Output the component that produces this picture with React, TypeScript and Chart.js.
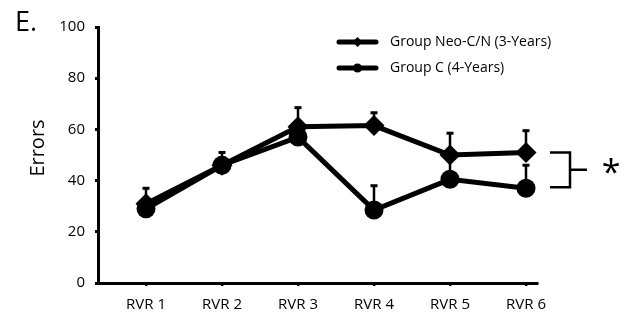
import React, { useEffect, useRef } from "react";
import { Chart, registerables } from "chart.js";

Chart.register(...registerables);

const categories = ["RVR 1", "RVR 2", "RVR 3", "RVR 4", "RVR 5", "RVR 6"];
const neoLabel = "Group Neo-C/N (3-Years)";
const cLabel = "Group C (4-Years)";
const neoValues = [31, 46, 61, 61.5, 50, 51];
const neoErrors = [6, 5, 7.5, 5, 8.5, 8.5];
const cValues = [29, 46, 57, 28.5, 40.5, 37];
const cErrors = [4, 3, 5, 9.5, 8.5, 9];
const yTicks = [0, 20, 40, 60, 80, 100];

const FONT = "'Open Sans', sans-serif";

const errorBarPlugin = {
  id: "errorBars",
  beforeDatasetsDraw(chart: any) {
    const ctx = chart.ctx;
    const xs = chart.scales.x;
    const ys = chart.scales.y;
    const sets = [
      { v: neoValues, e: neoErrors },
      { v: cValues, e: cErrors },
    ];
    ctx.save();
    ctx.strokeStyle = "#000";
    sets.forEach((s) => {
      s.v.forEach((val, i) => {
        const x = xs.getPixelForValue(i + 1);
        const y0 = ys.getPixelForValue(val);
        const y1 = ys.getPixelForValue(val + s.e[i]);
        ctx.lineWidth = 2.5;
        ctx.beginPath();
        ctx.moveTo(x, y0);
        ctx.lineTo(x, y1);
        ctx.stroke();
        ctx.lineWidth = 3;
        ctx.beginPath();
        ctx.moveTo(x - 3.5, y1);
        ctx.lineTo(x + 3.5, y1);
        ctx.stroke();
      });
    });
    ctx.restore();
  },
};

const annotationPlugin = {
  id: "annotations",
  afterDraw(chart: any) {
    const ctx = chart.ctx;
    const ys = chart.scales.y;
    ctx.save();
    ctx.fillStyle = "#000";
    ctx.strokeStyle = "#000";
    // Panel letter
    ctx.font = `27px ${FONT}`;
    ctx.textAlign = "left";
    ctx.textBaseline = "alphabetic";
    ctx.fillText("E.", 15, 31);
    // Y title
    ctx.save();
    ctx.translate(38, 148);
    ctx.rotate(-Math.PI / 2);
    ctx.font = `20px ${FONT}`;
    ctx.textAlign = "center";
    ctx.textBaseline = "middle";
    ctx.fillText("Errors", 0, 0);
    ctx.restore();
    // Legend
    const legendItems = [
      { label: neoLabel, style: "diamond", y: 42 },
      { label: cLabel, style: "circle", y: 68 },
    ];
    legendItems.forEach((it) => {
      ctx.lineWidth = 5;
      ctx.lineCap = "round";
      ctx.beginPath();
      ctx.moveTo(339, it.y);
      ctx.lineTo(376, it.y);
      ctx.stroke();
      ctx.beginPath();
      if (it.style === "diamond") {
        ctx.moveTo(357.5 - 5, it.y);
        ctx.lineTo(357.5, it.y - 5);
        ctx.lineTo(357.5 + 5, it.y);
        ctx.lineTo(357.5, it.y + 5);
        ctx.closePath();
      } else {
        ctx.arc(357.5, it.y, 4.5, 0, Math.PI * 2);
      }
      ctx.fill();
      ctx.font = `14px ${FONT}`;
      ctx.textAlign = "left";
      ctx.textBaseline = "middle";
      ctx.fillText(it.label, 390, it.y);
    });
    // Significance bracket
    const yTop = ys.getPixelForValue(neoValues[5]);
    const yBot = ys.getPixelForValue(cValues[5]) - 1;
    const yMid = (yTop + yBot) / 2;
    ctx.lineWidth = 2.5;
    ctx.lineCap = "butt";
    ctx.beginPath();
    ctx.moveTo(550, yTop);
    ctx.lineTo(570, yTop);
    ctx.lineTo(570, yBot);
    ctx.lineTo(550, yBot);
    ctx.moveTo(570, yMid);
    ctx.lineTo(587, yMid);
    ctx.stroke();
    ctx.font = `34px ${FONT}`;
    ctx.textAlign = "center";
    ctx.textBaseline = "middle";
    ctx.fillText("*", 611, yMid + 4);
    ctx.restore();
  },
};

export default function App() {
  const ref = useRef<HTMLCanvasElement>(null);
  useEffect(() => {
    if (!ref.current) return;
    const chart = new Chart(ref.current, {
      type: "line",
      data: {
        datasets: [
          {
            label: cLabel,
            data: cValues.map((v, i) => ({ x: i + 1, y: v })),
            borderColor: "#000",
            backgroundColor: "#000",
            borderWidth: 5,
            pointStyle: "circle",
            pointRadius: 9.5,
            pointBorderWidth: 0,
            tension: 0,
          },
          {
            label: neoLabel,
            data: neoValues.map((v, i) => ({ x: i + 1, y: v })),
            borderColor: "#000",
            backgroundColor: "#000",
            borderWidth: 5,
            pointStyle: "rectRot",
            pointRadius: 10.5,
            pointBorderWidth: 0,
            tension: 0,
          },
        ],
      },
      options: {
        responsive: false,
        animation: false,
        layout: { padding: { left: 0, top: 27, right: 97, bottom: 0 } },
        plugins: { legend: { display: false }, tooltip: { enabled: false } },
        scales: {
          x: {
            type: "linear",
            min: 1 - 48 / 76,
            max: 6 + 11 / 76,
            afterBuildTicks: (scale: any) => {
              scale.ticks = categories.map((_, i) => ({ value: i + 1 }));
            },
            afterFit: (scale: any) => {
              scale.height = 35;
            },
            border: { display: true, color: "#000", width: 3 },
            grid: {
              drawOnChartArea: false,
              drawTicks: true,
              tickLength: 3,
              color: "#000",
              lineWidth: 2.5,
            },
            ticks: {
              color: "#000",
              font: { family: FONT, size: 15 },
              padding: 10,
              maxRotation: 0,
              autoSkip: false,
              callback: (v: any) => categories[Number(v) - 1] ?? "",
            },
          },
          y: {
            type: "linear",
            min: 0,
            max: 100,
            afterBuildTicks: (scale: any) => {
              scale.ticks = yTicks.map((v) => ({ value: v }));
            },
            afterFit: (scale: any) => {
              scale.width = 98;
            },
            border: { display: true, color: "#000", width: 3 },
            grid: {
              drawOnChartArea: false,
              drawTicks: true,
              tickLength: 3,
              color: "#000",
              lineWidth: 3,
            },
            ticks: {
              color: "#000",
              font: { family: FONT, size: 15 },
              padding: 10,
            },
          },
        },
      },
      plugins: [errorBarPlugin, annotationPlugin],
    });
    return () => chart.destroy();
  }, []);
  return (
    <div style={{ position: "fixed", left: 0, top: 0, width: 634, height: 318, background: "#fff" }}>
      <canvas ref={ref} width={634} height={318} />
    </div>
  );
}
